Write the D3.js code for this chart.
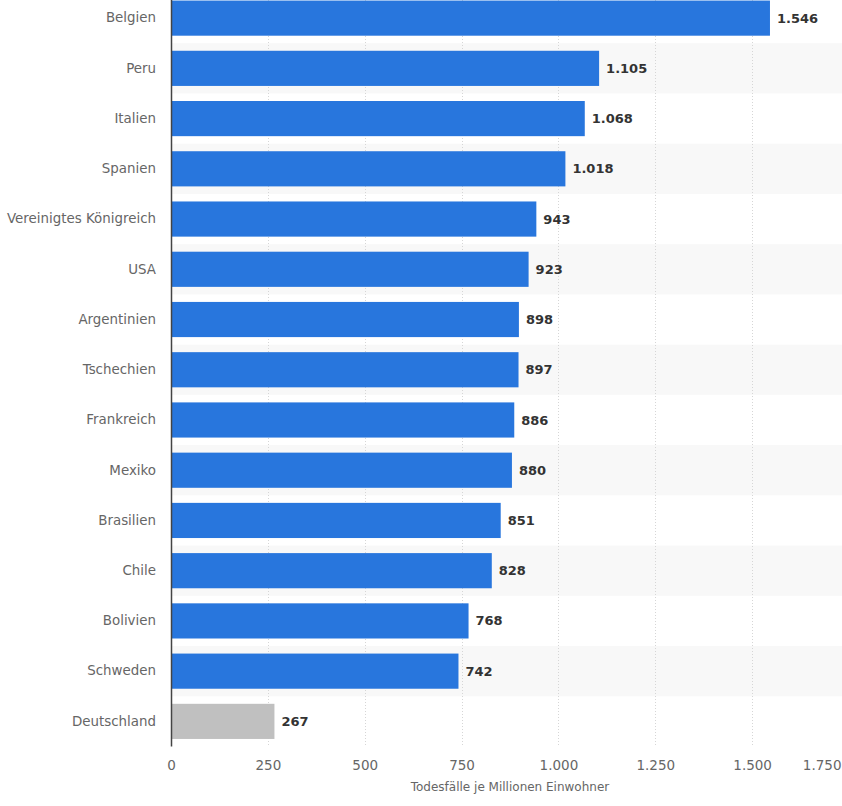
<!DOCTYPE html>
<html><head><meta charset="utf-8">
<script src="https://cdn.jsdelivr.net/npm/d3@7"></script>
<style>
html,body{margin:0;padding:0;background:#fff;overflow:hidden;}
svg{display:block;font-family:"DejaVu Sans",Verdana,sans-serif;}
</style></head><body>
<script>
const categories = ["Belgien","Peru","Italien","Spanien","Vereinigtes Königreich","USA","Argentinien","Tschechien","Frankreich","Mexiko","Brasilien","Chile","Bolivien","Schweden","Deutschland"];
const values = [1546,1105,1068,1018,943,923,898,897,886,880,851,828,768,742,267];
const highlighted = ["Deutschland"];
const tickValues = [0,250,500,750,1000,1250,1500,1750];
const axisTitle = "Todesfälle je Millionen Einwohner";

const W = 842, H = 806;
const mLeft = 171, mRight = 849, mTop = -7, mBottom = 746.5;

const fmt = v => d3.format(",")(v).replace(/,/g, ".");

const svg = d3.select("body").append("svg").attr("width", W).attr("height", H);

const x = d3.scaleLinear().domain([0,1750]).range([mLeft, mRight]);
const y = d3.scaleBand().domain(categories).range([mTop, mBottom]).paddingInner(0.3).paddingOuter(0.15);
const yRow = d3.scaleBand().domain(categories).range([mTop, mBottom]);

// stripes
svg.append("g").selectAll("rect").data(categories.filter((d,i)=>i%2===1)).join("rect")
  .attr("x", mLeft).attr("y", d=>yRow(d)).attr("width", W-mLeft).attr("height", yRow.bandwidth())
  .attr("fill", "#f8f8f8");

// gridlines
svg.append("g").selectAll("line").data(tickValues.filter(t=>t>0)).join("line")
  .attr("x1", d=>Math.round(x(d))+0.5).attr("x2", d=>Math.round(x(d))+0.5)
  .attr("y1", 0).attr("y2", mBottom)
  .attr("stroke", "#d6d6d6").attr("stroke-width", 1).attr("stroke-dasharray", "1,2");

// bars
svg.append("g").selectAll("rect").data(categories).join("rect")
  .attr("x", mLeft).attr("y", d=>y(d))
  .attr("width", (d,i)=>x(values[i])-mLeft).attr("height", y.bandwidth())
  .attr("fill", d=>highlighted.includes(d) ? "#c0c0c0" : "#2876dd");

// value labels
svg.append("g").selectAll("text").data(categories).join("text")
  .attr("x", (d,i)=>x(values[i])+7).attr("y", d=>y(d)+y.bandwidth()/2)
  .attr("dy", "0.35em").attr("font-size", 13).attr("font-weight", "bold")
  .attr("fill", "#333").text((d,i)=>fmt(values[i]));

// y axis labels
const yAxis = d3.axisLeft(yRow).tickSize(0).tickPadding(15);
const gy = svg.append("g").attr("transform", `translate(${mLeft},0)`).call(yAxis);
gy.select(".domain").remove();
gy.selectAll("text").attr("font-size", 13.4).attr("fill", "#666").attr("font-family", "DejaVu Sans, sans-serif");

// axis line
svg.append("line").attr("x1", mLeft+0.5).attr("x2", mLeft+0.5).attr("y1", 0).attr("y2", mBottom)
  .attr("stroke", "#444").attr("stroke-width", 1.5);

// x axis
const xAxis = d3.axisBottom(x).tickValues(tickValues).tickSize(0).tickPadding(0).tickFormat(fmt);
const gx = svg.append("g").attr("transform", `translate(0,${mBottom})`).call(xAxis);
gx.select(".domain").remove();
gx.selectAll("text").attr("font-size", 13.5).attr("fill", "#666").attr("y", 14)
  .attr("font-family", "DejaVu Sans, sans-serif");
// keep last tick label inside the window (shifted like the reference)
gx.selectAll(".tick").filter(d => d === tickValues[tickValues.length-1]).select("text")
  .attr("text-anchor", "end").attr("x", W - 1 - x(tickValues[tickValues.length-1]));

svg.append("text").attr("x", (mLeft+mRight)/2).attr("y", 791).attr("text-anchor", "middle")
  .attr("font-size", 12).attr("fill", "#666").text(axisTitle);
</script>
</body></html>
